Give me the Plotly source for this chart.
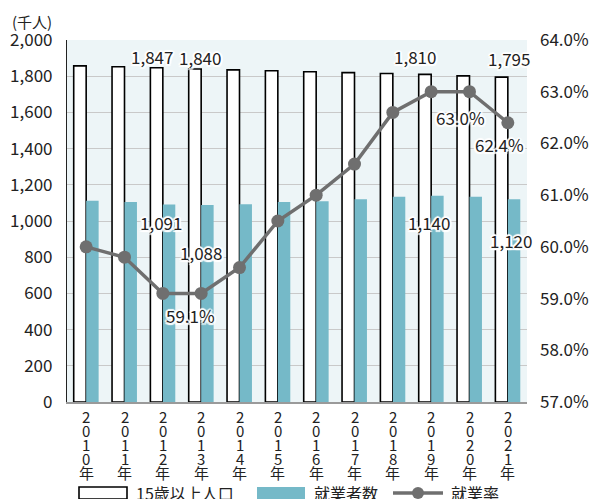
import plotly.graph_objects as go

years = ["2010年", "2011年", "2012年", "2013年", "2014年", "2015年",
         "2016年", "2017年", "2018年", "2019年", "2020年", "2021年"]
pop15 = [1857, 1852, 1847, 1840, 1835, 1830, 1825, 1820, 1815, 1810, 1802, 1795]
employed = [1112, 1105, 1091, 1088, 1092, 1105, 1109, 1120, 1134, 1140, 1134, 1120]
emp_rate = [60.0, 59.8, 59.1, 59.1, 59.6, 60.5, 61.0, 61.6, 62.6, 63.0, 63.0, 62.4]

left_ticks = [0, 200, 400, 600, 800, 1000, 1200, 1400, 1600, 1800, 2000]
right_ticks = [57, 58, 59, 60, 61, 62, 63, 64]
right_tick_text = [f"{v:.1f}%" for v in right_ticks]

FONT = "Noto Sans CJK JP, Noto Sans, sans-serif"
TEAL = "#75b9c8"
GRAY = "#6f6f6f"
HALO = ("white 2px 0px 1px, white -2px 0px 1px, white 0px 2px 1px, white 0px -2px 1px, "
        "white 1.5px 1.5px 1px, white -1.5px -1.5px 1px, white 1.5px -1.5px 1px, white -1.5px 1.5px 1px")

W, H = 595, 499
L, R, T, B = 67, 527, 40, 402


def px(x):
    return (x - L) / (R - L)


def py(y):
    return (B - y) / (B - T)


fig = go.Figure()
fig.add_trace(go.Bar(x=years, y=pop15, name="15歳以上人口",
                     marker=dict(color="white", line=dict(color="black", width=1.6)),
                     showlegend=False, yaxis="y"))
fig.add_trace(go.Bar(x=years, y=employed, name="就業者数",
                     marker=dict(color=TEAL, line=dict(width=0)),
                     showlegend=False, yaxis="y"))
fig.add_trace(go.Scatter(x=years, y=emp_rate, name="就業率", mode="lines+markers",
                         line=dict(color=GRAY, width=3.5),
                         marker=dict(color=GRAY, size=13),
                         showlegend=False, yaxis="y2", cliponaxis=False))

annotations = []

# data labels: (series, index, xshift, yshift)
label_specs = [
    ("pop", 2, -11, 11), ("pop", 3, -1, 11), ("pop", 9, -16, 18), ("pop", 11, 1, 19),
    ("emp", 2, -2, -18), ("emp", 3, 0, -47), ("emp", 9, -2, -27), ("emp", 11, 3, -41),
    ("rate", 3, -11, -22), ("rate", 10, -9, -26), ("rate", 11, -8, -22),
]
for series, i, xs, ys in label_specs:
    if series == "pop":
        val, yref, text = pop15[i], "y", f"{pop15[i]:,}"
    elif series == "emp":
        val, yref, text = employed[i], "y", f"{employed[i]:,}"
    else:
        val, yref, text = emp_rate[i], "y2", f"{emp_rate[i]:.1f}%"
    annotations.append(dict(x=years[i], y=val, xref="x", yref=yref, text=text,
                            showarrow=False, xshift=xs, yshift=ys,
                            font=dict(family=FONT, size=17, color="#222", shadow=HALO)))

# vertical x-axis labels, one character per line
for yr in years:
    for k, ch in enumerate(yr):
        annotations.append(dict(x=yr, y=0, xref="x", yref="paper", text=ch,
                                showarrow=False, yanchor="middle",
                                yshift=-(14 + 14.0 * k),
                                font=dict(family=FONT, size=15, color="#222")))

# unit label
annotations.append(dict(x=px(32), y=py(21), xref="paper", yref="paper", text="(千人)",
                        showarrow=False, xanchor="center", yanchor="middle",
                        font=dict(family=FONT, size=15, color="#222")))

# custom legend
shapes = []
ly = 493
shapes.append(dict(type="rect", xref="paper", yref="paper",
                   x0=px(79), x1=px(127), y0=py(ly - 6), y1=py(ly + 6),
                   fillcolor="white", line=dict(color="black", width=1.6)))
shapes.append(dict(type="rect", xref="paper", yref="paper",
                   x0=px(257), x1=px(305), y0=py(ly - 6), y1=py(ly + 6),
                   fillcolor=TEAL, line=dict(width=0)))
shapes.append(dict(type="line", xref="paper", yref="paper",
                   x0=px(393), x1=px(443), y0=py(ly), y1=py(ly),
                   line=dict(color=GRAY, width=3.5)))
shapes.append(dict(type="circle", xref="paper", yref="paper",
                   x0=px(412), x1=px(424), y0=py(ly - 6), y1=py(ly + 6),
                   fillcolor=GRAY, line=dict(width=0)))
for xpos, txt in [(134, "15歳以上人口"), (312, "就業者数"), (449, "就業率")]:
    annotations.append(dict(x=px(xpos), y=py(ly), xref="paper", yref="paper", text=txt,
                            showarrow=False, xanchor="left", yanchor="middle",
                            font=dict(family=FONT, size=16, color="#222")))

fig.update_layout(
    width=W, height=H,
    margin=dict(l=L, r=W - R, t=T, b=H - B, pad=0, autoexpand=False),
    paper_bgcolor="white",
    plot_bgcolor="#edf5f7",
    barmode="group", bargap=0.35, bargroupgap=0,
    font=dict(family=FONT, size=16, color="#222"),
    xaxis=dict(range=[-0.5, len(years) - 0.5], showticklabels=False, showgrid=False,
               ticks="", showline=True, linecolor="#9a9a9a", linewidth=1.5),
    yaxis=dict(range=[0, 2000], tickvals=left_ticks, tickformat=",",
               showgrid=True, gridcolor="#c9c9c9", gridwidth=1,
               showline=True, linecolor="#222", linewidth=1.2,
               ticks="", ticklabelstandoff=10, zeroline=False,
               tickfont=dict(family=FONT, size=17, color="#222")),
    yaxis2=dict(range=[57, 64], tickvals=right_ticks, ticktext=right_tick_text,
                overlaying="y", side="right", showgrid=False, zeroline=False,
                showline=False, ticks="", ticklabelstandoff=12,
                tickfont=dict(family=FONT, size=17, color="#222")),
    annotations=annotations,
    shapes=shapes,
)

fig.write_html("out.html", config={"displayModeBar": False},
               post_script="document.body.style.margin='0';document.body.style.overflow='hidden';")
